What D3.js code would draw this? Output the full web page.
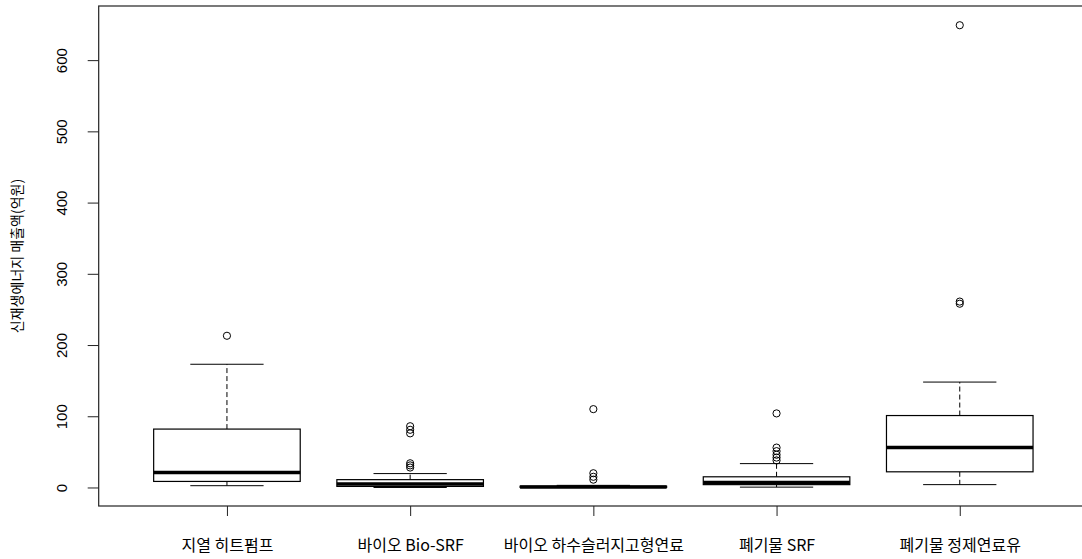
<!DOCTYPE html>
<html>
<head>
<meta charset="utf-8">
<script src="https://cdn.jsdelivr.net/npm/d3@7"></script>
<style>
body { margin: 0; background: #fff; }
svg { display: block; }
text { font-family: "Noto Sans CJK KR", "Liberation Sans", sans-serif; fill: #000; }
</style>
</head>
<body>
<svg id="chart" width="1082" height="559"></svg>
<script>
// box summaries
let categories = ['지열 히트펌프', '바이오 Bio-SRF', '바이오 하수슬러지고형연료', '폐기물 SRF', '폐기물 정제연료유'];
let lowWhisker = [2.5, 0, 0, 0.5, 4];
let q1 = [8.5, 1.5, 0.2, 4, 22];
let median = [21, 5, 0.8, 7, 56];
let q3 = [82, 11, 1.8, 15, 101];
let highWhisker = [173, 19.5, 3, 33.5, 148];
let outliers = [
	[213],
	[28, 31, 34, 76, 81, 86],
	[11, 15, 20, 110],
	[38, 42, 46, 51, 56, 104],
	[258, 261, 649]
];
let yTicks = [0, 100, 200, 300, 400, 500, 600];
let yTitle = '신재생에너지 매출액(억원)';

let svg = d3.select('svg');
let plotL = 98.7, plotR = 1088, plotT = 6, plotB = 506;

let x = d3.scaleLinear().domain([0.3, 5.7]).range([plotL, plotR]);
let y = d3.scaleLinear().domain([-26, 676]).range([plotB, plotT]);
let boxW = x(0.8) - x(0);

let data = categories.map((c, i) => ({
	name: c, i: i + 1,
	lo: lowWhisker[i], q1: q1[i], med: median[i], q3: q3[i], hi: highWhisker[i],
	out: outliers[i]
}));

// frame
svg.append('rect')
	.attr('x', plotL).attr('y', plotT)
	.attr('width', plotR - plotL).attr('height', plotB - plotT)
	.attr('fill', 'none').attr('stroke', '#222').attr('stroke-width', 1.2);

// y axis
let yAxis = svg.append('g')
	.attr('transform', 'translate(' + plotL + ',0)')
	.call(d3.axisLeft(y).tickValues(yTicks).tickSize(11).tickSizeOuter(0));
yAxis.select('.domain').remove();
yAxis.selectAll('line').attr('stroke', '#222');
yAxis.selectAll('text')
	.attr('x', null).attr('dy', null)
	.attr('text-anchor', 'middle')
	.attr('dominant-baseline', 'middle')
	.attr('transform', d => 'translate(' + (63 - plotL) + ',0) rotate(-90)')
	.style('font-family', '"Liberation Sans", Arial, sans-serif')
	.style('font-size', '15px');

svg.append('text')
	.attr('transform', 'translate(18,' + (plotT + plotB) / 2 + ') rotate(-90)')
	.attr('text-anchor', 'middle')
	.attr('dominant-baseline', 'middle')
	.style('font-size', '14px')
	.text(yTitle);

// x axis
let xAxis = svg.append('g')
	.attr('transform', 'translate(0,' + plotB + ')')
	.call(d3.axisBottom(x).tickValues(data.map(d => d.i)).tickFormat((d, i) => categories[i]).tickSize(10).tickSizeOuter(0));
xAxis.select('.domain').remove();
xAxis.selectAll('line').attr('stroke', '#222');
xAxis.selectAll('text')
	.attr('y', 39)
	.attr('dy', '0.35em')
	.style('font-size', '16px');

// boxes
let g = svg.selectAll('.box')
	.data(data)
	.enter()
	.append('g')
	.attr('class', 'box');

g.append('line')
	.attr('x1', d => x(d.i)).attr('x2', d => x(d.i))
	.attr('y1', d => y(d.q3)).attr('y2', d => y(d.hi))
	.attr('stroke', '#000').attr('stroke-dasharray', '5,3');
g.append('line')
	.attr('x1', d => x(d.i)).attr('x2', d => x(d.i))
	.attr('y1', d => y(d.q1)).attr('y2', d => y(d.lo))
	.attr('stroke', '#000').attr('stroke-dasharray', '5,3');
g.append('line')
	.attr('x1', d => x(d.i) - boxW / 4).attr('x2', d => x(d.i) + boxW / 4)
	.attr('y1', d => y(d.hi)).attr('y2', d => y(d.hi))
	.attr('stroke', '#000');
g.append('line')
	.attr('x1', d => x(d.i) - boxW / 4).attr('x2', d => x(d.i) + boxW / 4)
	.attr('y1', d => y(d.lo)).attr('y2', d => y(d.lo))
	.attr('stroke', '#000');
g.append('rect')
	.attr('x', d => x(d.i) - boxW / 2)
	.attr('width', boxW)
	.attr('y', d => y(d.q3))
	.attr('height', d => Math.max(0.5, y(d.q1) - y(d.q3)))
	.attr('fill', '#fff').attr('stroke', '#000').attr('stroke-width', 1.2);
g.append('line')
	.attr('x1', d => x(d.i) - boxW / 2).attr('x2', d => x(d.i) + boxW / 2)
	.attr('y1', d => y(d.med)).attr('y2', d => y(d.med))
	.attr('stroke', '#000').attr('stroke-width', 3.5);

g.selectAll('circle')
	.data(d => d.out.map(v => ({ i: d.i, v: v })))
	.enter()
	.append('circle')
	.attr('cx', d => x(d.i))
	.attr('cy', d => y(d.v))
	.attr('r', 3.6)
	.attr('fill', 'none').attr('stroke', '#000').attr('stroke-width', 1);
</script>
</body>
</html>
